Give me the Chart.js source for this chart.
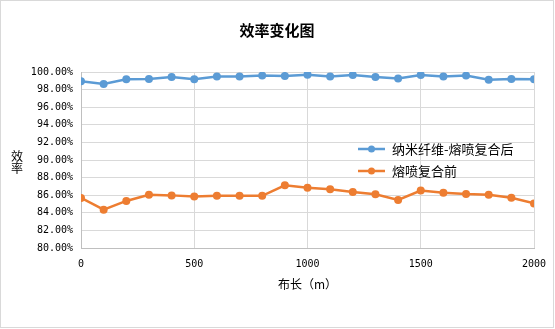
<!DOCTYPE html>
<html>
<head>
<meta charset="utf-8">
<script src="https://cdn.jsdelivr.net/npm/chart.js@4/dist/chart.umd.min.js"></script>
<style>
  body { margin: 0; background: #fff; }
  #wrap { width: 555px; height: 329px; }
</style>
</head>
<body>
<div id="wrap"><canvas id="chart" width="555" height="329"></canvas></div>
<script>
// 布长 (m)
const lengths = [0, 100, 200, 300, 400, 500, 600, 700, 800, 900, 1000,
  1100, 1200, 1300, 1400, 1500, 1600, 1700, 1800, 1900, 2000];

// 效率 (%)
const afterComposite = [98.94, 98.64, 99.17, 99.2, 99.43, 99.17, 99.5, 99.5, 99.59, 99.55, 99.7,
  99.5, 99.66, 99.43, 99.25, 99.66, 99.5, 99.59, 99.13, 99.2, 99.17];
const beforeComposite = [85.69, 84.36, 85.35, 86.06, 85.98, 85.84, 85.95, 85.95, 85.93, 87.12, 86.86,
  86.67, 86.37, 86.1, 85.46, 86.52, 86.29, 86.14, 86.06, 85.72, 85.07];

const seriesNames = ["纳米纤维-熔喷复合后", "熔喷复合前"];
const xTicks = [0, 500, 1000, 1500, 2000];
const yTicks = [80, 82, 84, 86, 88, 90, 92, 94, 96, 98, 100];

const BLUE = "#5B9BD5";
const ORANGE = "#ED7D31";
const CJK = '"Noto Sans CJK SC", sans-serif';
const MONO = '"DejaVu Sans Mono", monospace';

function toPoints(vals) {
  return lengths.map((x, i) => ({ x: x, y: vals[i] }));
}

// title, axis titles, legend inside the plot and outer frame
const extras = {
  id: "extras",
  afterDraw(chart) {
    const ctx = chart.ctx;
    const area = chart.chartArea;
    ctx.save();
    ctx.fillStyle = "#000";
    ctx.textAlign = "center";
    ctx.textBaseline = "middle";

    ctx.font = "bold 15px " + CJK;
    ctx.fillText("效率变化图", 277, 30);

    ctx.font = "12px " + CJK;
    ctx.fillText("效", 17, 156);
    ctx.fillText("率", 17, 168);

    ctx.fillText("布长（m）", (area.left + area.right) / 2, 284);

    // legend
    const rows = [149, 171];
    chart.data.datasets.forEach((ds, i) => {
      const y = rows[i];
      ctx.strokeStyle = ds.borderColor;
      ctx.lineWidth = 2.5;
      ctx.beginPath();
      ctx.moveTo(358, y);
      ctx.lineTo(385, y);
      ctx.stroke();
      ctx.fillStyle = ds.borderColor;
      ctx.beginPath();
      ctx.arc(371.5, y, 3.5, 0, Math.PI * 2);
      ctx.fill();
      ctx.fillStyle = "#000";
      ctx.textAlign = "left";
      ctx.font = "13px " + CJK;
      ctx.fillText(ds.label, 392, y);
    });

    ctx.strokeStyle = "#d9d9d9";
    ctx.lineWidth = 1;
    ctx.strokeRect(0.5, 0.5, 553, 327);
    ctx.restore();
  }
};

new Chart(document.getElementById("chart"), {
  type: "line",
  data: {
    datasets: [
      { label: seriesNames[0], data: toPoints(afterComposite), borderColor: BLUE, backgroundColor: BLUE },
      { label: seriesNames[1], data: toPoints(beforeComposite), borderColor: ORANGE, backgroundColor: ORANGE }
    ]
  },
  options: {
    responsive: false,
    animation: false,
    layout: { padding: { top: 72, right: 21, left: 0, bottom: 0 } },
    elements: {
      line: { borderWidth: 2.5, tension: 0 },
      point: { radius: 4, borderWidth: 0, hoverRadius: 4 }
    },
    plugins: {
      legend: { display: false },
      title: { display: false },
      tooltip: { enabled: false }
    },
    scales: {
      x: {
        type: "linear",
        min: 0,
        max: 2000,
        afterFit(scale) {
          scale.height = 81;
          scale.paddingLeft = 0;
          scale.paddingRight = 0;
        },
        afterBuildTicks(scale) { scale.ticks = xTicks.map(v => ({ value: v })); },
        grid: { color: "#d9d9d9", drawTicks: false },
        border: { color: "#bfbfbf" },
        ticks: {
          color: "#000",
          font: { family: MONO, size: 10 },
          padding: 10,
          maxRotation: 0,
          callback: v => String(v)
        }
      },
      y: {
        min: 80,
        max: 100,
        afterFit(scale) {
          scale.width = 81;
          scale.paddingTop = 0;
          scale.paddingBottom = 0;
        },
        afterBuildTicks(scale) { scale.ticks = yTicks.map(v => ({ value: v })); },
        grid: { color: "#d9d9d9", drawTicks: false },
        border: { color: "#bfbfbf" },
        ticks: {
          color: "#000",
          font: { family: MONO, size: 10 },
          padding: 8,
          callback: v => v.toFixed(2) + "%"
        }
      }
    }
  },
  plugins: [extras]
});
</script>
</body>
</html>
